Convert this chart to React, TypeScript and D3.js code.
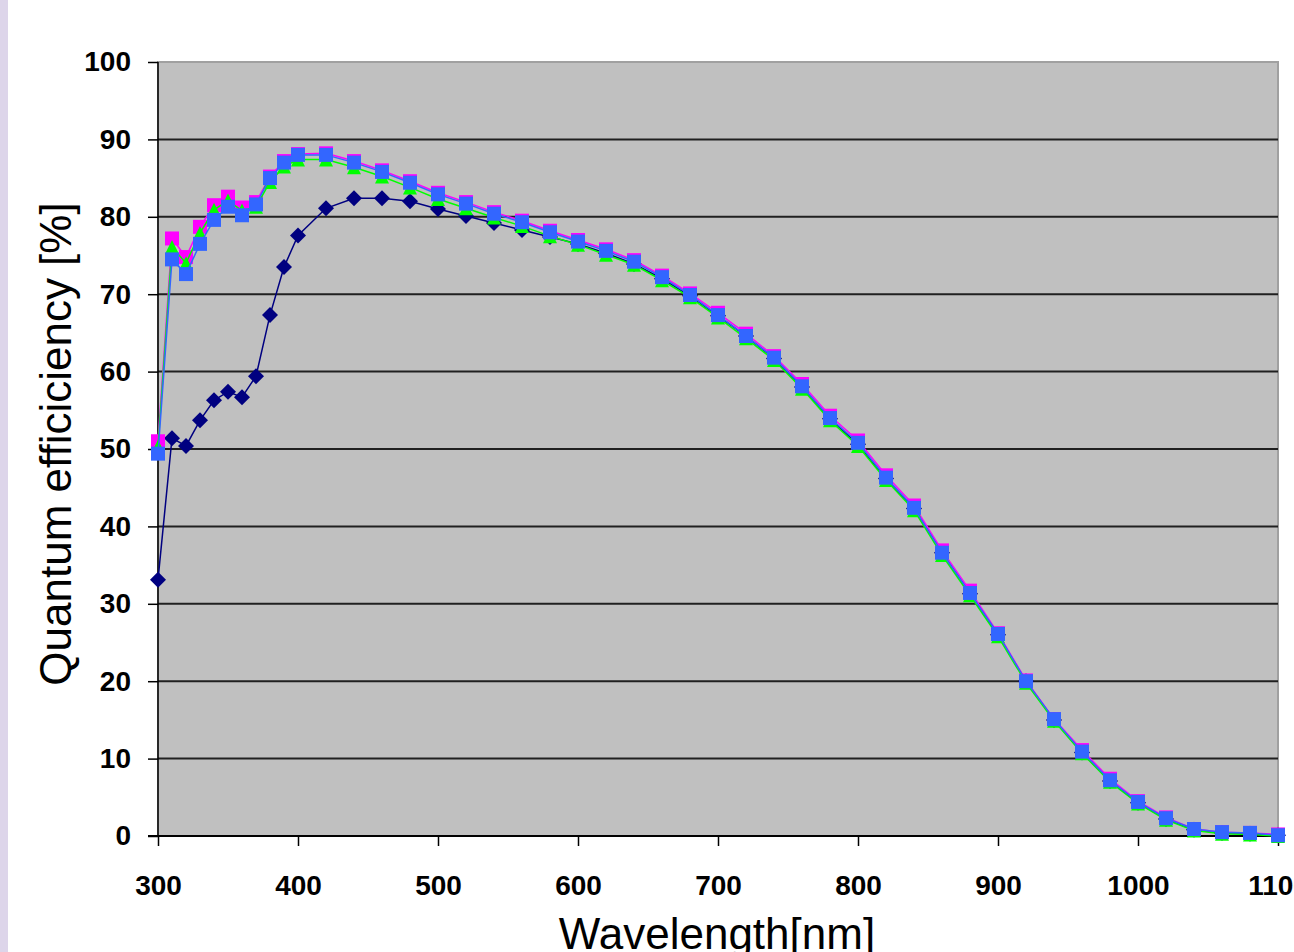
import React, { useRef, useEffect } from "react";
import { select, scaleLinear, axisLeft, axisBottom, line, range } from "d3";

// wavelengths in nm
const wavelengths = [
  300, 310, 320, 330, 340, 350, 360, 370, 380, 390, 400,
  420, 440, 460, 480, 500, 520, 540, 560, 580, 600,
  620, 640, 660, 680, 700, 720, 740, 760, 780, 800,
  820, 840, 860, 880, 900, 920, 940, 960, 980, 1000,
  1020, 1040, 1060, 1080, 1100,
];

// quantum efficiency [%] per series
const navySeries = [
  33.1, 51.4, 50.4, 53.7, 56.3, 57.4, 56.7, 59.4, 67.3, 73.5, 77.6,
  81.1, 82.4, 82.4, 82.0, 81.0, 80.1, 79.2, 78.3, 77.4, 76.5,
  75.3, 73.9, 72.0, 69.8, 67.2, 64.6, 61.7, 58.0, 53.9, 50.6,
  46.2, 42.3, 36.6, 31.3, 26.0, 20.0, 15.0, 10.8, 7.1, 4.3,
  2.2, 0.8, 0.4, 0.3, 0.1,
];
const magentaSeries = [
  51.0, 77.2, 74.8, 78.7, 81.5, 82.6, 81.2, 81.9, 85.2, 87.2, 88.1,
  88.2, 87.2, 86.0, 84.6, 83.1, 81.9, 80.6, 79.5, 78.2, 77.0,
  75.8, 74.4, 72.4, 70.1, 67.6, 64.9, 62.0, 58.4, 54.3, 51.1,
  46.6, 42.7, 36.9, 31.7, 26.2, 20.1, 15.1, 11.1, 7.4, 4.5,
  2.4, 0.9, 0.5, 0.4, 0.2,
];
const greenSeries = [
  50.3, 76.1, 74.0, 77.9, 80.9, 82.1, 80.8, 81.3, 84.5, 86.5, 87.4,
  87.4, 86.4, 85.2, 83.8, 82.3, 81.1, 79.9, 78.8, 77.5, 76.4,
  75.1, 73.8, 71.8, 69.6, 67.0, 64.3, 61.5, 57.8, 53.7, 50.4,
  46.0, 42.1, 36.3, 31.1, 25.8, 19.8, 14.9, 10.7, 7.0, 4.2,
  2.1, 0.7, 0.3, 0.2, 0.0,
];
const blueSeries = [
  49.4, 74.5, 72.6, 76.5, 79.6, 81.3, 80.2, 81.6, 85.0, 87.0, 88.0,
  88.0, 87.0, 85.8, 84.4, 82.9, 81.7, 80.4, 79.3, 78.0, 76.8,
  75.6, 74.2, 72.2, 69.9, 67.3, 64.6, 61.8, 58.1, 54.0, 50.8,
  46.3, 42.4, 36.6, 31.4, 26.1, 20.0, 15.1, 10.9, 7.2, 4.4,
  2.3, 0.9, 0.5, 0.4, 0.1,
];

const xTicks = [300, 400, 500, 600, 700, 800, 900, 1000, 1100];
const yTicks = [0, 10, 20, 30, 40, 50, 60, 70, 80, 90, 100];

const series = [
  { values: navySeries, color: "#000080", marker: "diamond" },
  { values: magentaSeries, color: "#FF00FF", marker: "square" },
  { values: greenSeries, color: "#00FF00", marker: "triangle" },
  { values: blueSeries, color: "#3366FF", marker: "square" },
];

const W = 1294;
const H = 952;

function markerPath(type, s) {
  const h = s / 2;
  if (type === "diamond") return `M0,${-h - 1}L${h + 1},0L0,${h + 1}L${-h - 1},0Z`;
  if (type === "triangle") return `M0,${-h}L${h},${h}L${-h},${h}Z`;
  return `M${-h},${-h}H${h}V${h}H${-h}Z`;
}

export default function App() {
  const svgRef = useRef(null);

  useEffect(() => {
    const svg = select(svgRef.current);
    svg.selectAll("*").remove();

    const x = scaleLinear().domain([300, 1100]).range([158, 1278]);
    const y = scaleLinear().domain([0, 100]).range([836, 62]);

    // page background + lavender edge
    svg.append("rect").attr("width", W).attr("height", H).attr("fill", "#ffffff");
    svg.append("rect").attr("width", 8).attr("height", H).attr("fill", "#DDD5EA");

    // plot area
    svg
      .append("rect")
      .attr("x", x(300))
      .attr("y", y(100))
      .attr("width", x(1100) - x(300))
      .attr("height", y(0) - y(100))
      .attr("fill", "#C0C0C0")
      .attr("stroke", "#A0A0A0")
      .attr("stroke-width", 2);

    // gridlines
    svg
      .selectAll(".grid")
      .data(yTicks.filter((t) => t > 0 && t < 100))
      .join("line")
      .attr("class", "grid")
      .attr("x1", x(300))
      .attr("x2", x(1100))
      .attr("y1", (d) => y(d))
      .attr("y2", (d) => y(d))
      .attr("stroke", "#202020")
      .attr("stroke-width", 2);

    // axes
    const yAxis = axisLeft(y).tickValues(yTicks).tickSize(10).tickPadding(17)
      .tickFormat((d) => String(d));
    const gy = svg.append("g").attr("transform", `translate(${x(300)},0)`).call(yAxis);
    const xAxis = axisBottom(x).tickValues(xTicks).tickSize(10).tickPadding(29)
      .tickFormat((d) => String(d));
    const gx = svg.append("g").attr("transform", `translate(0,${y(0)})`).call(xAxis);

    [gx, gy].forEach((g) => {
      g.select(".domain").remove();
      g.selectAll("line").attr("stroke", "#000").attr("stroke-width", 1.5);
      g.selectAll("text")
        .attr("fill", "#000")
        .style("font-family", "'Liberation Sans', Arial, sans-serif")
        .style("font-weight", "bold")
        .style("font-size", "28px");
    });

    svg
      .append("line")
      .attr("x1", x(300))
      .attr("x2", x(300))
      .attr("y1", y(100))
      .attr("y2", y(0))
      .attr("stroke", "#000")
      .attr("stroke-width", 1.5);
    svg
      .append("line")
      .attr("x1", x(300) - 10)
      .attr("x2", x(1100))
      .attr("y1", y(0))
      .attr("y2", y(0))
      .attr("stroke", "#000")
      .attr("stroke-width", 2);

    // series
    const idx = range(wavelengths.length);
    series.forEach((s) => {
      const path = line()
        .x((i) => x(wavelengths[i]))
        .y((i) => y(s.values[i]));
      svg
        .append("path")
        .attr("d", path(idx))
        .attr("fill", "none")
        .attr("stroke", s.color)
        .attr("stroke-width", 1.5);
      svg
        .append("g")
        .selectAll("path")
        .data(idx)
        .join("path")
        .attr("transform", (i) => `translate(${x(wavelengths[i])},${y(s.values[i])})`)
        .attr("d", markerPath(s.marker, 14))
        .attr("fill", s.color);
    });

    // axis titles
    svg
      .append("text")
      .attr("x", 717)
      .attr("y", 949)
      .attr("text-anchor", "middle")
      .style("font-family", "'Liberation Sans', Arial, sans-serif")
      .style("font-size", "44px")
      .attr("fill", "#000")
      .text("Wavelength[nm]");

    svg
      .append("text")
      .attr("transform", "translate(71,444) rotate(-90)")
      .attr("text-anchor", "middle")
      .style("font-family", "'Liberation Sans', Arial, sans-serif")
      .style("font-size", "44px")
      .attr("fill", "#000")
      .text("Quantum efficiciency [%]");
  }, []);

  return (
    <svg
      ref={svgRef}
      width={W}
      height={H}
      style={{ position: "absolute", left: 0, top: 0, display: "block" }}
    />
  );
}
